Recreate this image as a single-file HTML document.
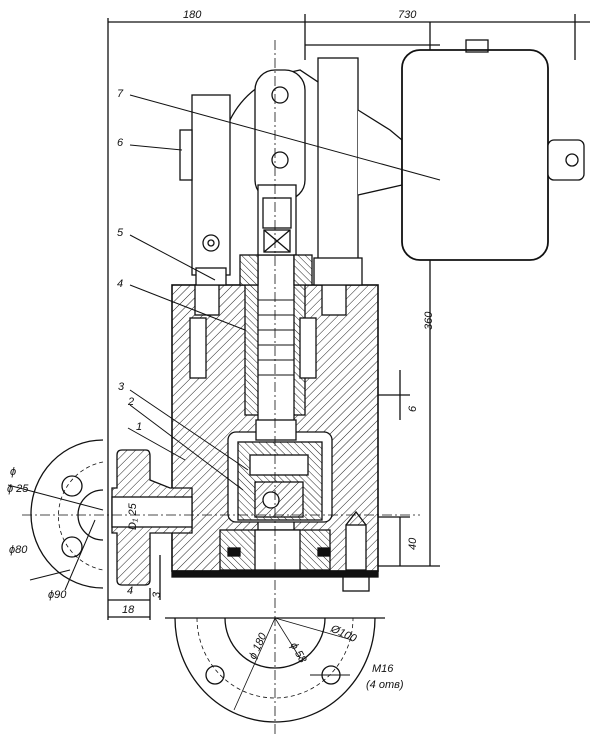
<!DOCTYPE html>
<html><head><meta charset="utf-8"><style>
html,body{margin:0;padding:0;background:#fff}
svg{display:block}
text{font-family:"Liberation Sans",sans-serif;font-style:italic;font-size:11px;fill:#111}
</style></head><body>
<svg width="605" height="736" viewBox="0 0 605 736" xmlns="http://www.w3.org/2000/svg">
<defs>
<pattern id="h" width="6" height="6" patternUnits="userSpaceOnUse" patternTransform="rotate(45)">
<rect width="6" height="6" fill="#fff"/><line x1="0" y1="0" x2="0" y2="6" stroke="#222" stroke-width="1"/></pattern>
<pattern id="h2" width="5" height="5" patternUnits="userSpaceOnUse" patternTransform="rotate(-45)">
<rect width="5" height="5" fill="#fff"/><line x1="0" y1="0" x2="0" y2="5" stroke="#222" stroke-width="1"/></pattern>
</defs>
<g stroke="#111" stroke-width="1.3" fill="none">
<!-- dimension lines -->
<line x1="108" y1="18" x2="108" y2="620"/>
<line x1="108" y1="22" x2="590" y2="22"/>
<line x1="305" y1="14" x2="305" y2="60"/>
<line x1="575" y1="14" x2="575" y2="60"/>
<line x1="430" y1="22" x2="430" y2="566"/>
<line x1="378" y1="566" x2="440" y2="566"/>
<line x1="305" y1="45" x2="440" y2="45"/>
<line x1="378" y1="395" x2="410" y2="395"/>
<line x1="378" y1="517" x2="410" y2="517"/>
<line x1="400" y1="370" x2="400" y2="420"/>
<line x1="400" y1="517" x2="400" y2="566"/>
<!-- main block -->
<rect x="172" y="285" width="206" height="286" fill="url(#h)" stroke-width="1.6"/>
<rect x="172" y="571" width="206" height="6" fill="#111"/>
<!-- central bore -->
<rect x="245" y="285" width="60" height="130" fill="url(#h2)"/>
<rect x="258" y="255" width="36" height="300" fill="#fff"/>
<g stroke-width="1">
<line x1="258" y1="300" x2="294" y2="300"/><line x1="258" y1="315" x2="294" y2="315"/>
<line x1="258" y1="330" x2="294" y2="330"/><line x1="258" y1="345" x2="294" y2="345"/>
<line x1="258" y1="360" x2="294" y2="360"/><line x1="258" y1="375" x2="294" y2="375"/>
</g>
<rect x="190" y="318" width="16" height="60" fill="#fff"/>
<rect x="300" y="318" width="16" height="60" fill="#fff"/>
<rect x="228" y="432" width="104" height="90" rx="8" fill="#fff"/>
<rect x="238" y="442" width="84" height="78" fill="url(#h2)"/>
<rect x="250" y="455" width="58" height="20" fill="#fff"/>
<rect x="255" y="482" width="48" height="35" fill="url(#h)"/>
<circle cx="271" cy="500" r="8" fill="#fff"/>
<rect x="220" y="530" width="110" height="40" fill="url(#h2)"/>
<rect x="255" y="530" width="45" height="40" fill="#fff"/>
<rect x="228" y="548" width="12" height="8" fill="#111"/>
<rect x="318" y="548" width="12" height="8" fill="#111"/>
<rect x="256" y="420" width="40" height="20" fill="#fff"/>
<rect x="195" y="285" width="24" height="30" fill="#fff"/>
<rect x="322" y="285" width="24" height="30" fill="#fff"/>
<!-- stud -->
<rect x="346" y="525" width="20" height="45" fill="#fff"/>
<path d="M346 525 L356 512 L366 525"/>
<rect x="343" y="577" width="26" height="14" fill="#fff"/>
<!-- levers -->
<rect x="192" y="95" width="38" height="180" fill="#fff"/>
<rect x="180" y="130" width="12" height="50" fill="#fff"/>
<circle cx="211" cy="243" r="8"/><circle cx="211" cy="243" r="3"/>
<path d="M230 120 Q250 80 300 70 L330 90 L320 110"/>
<rect x="255" y="70" width="50" height="130" rx="20" fill="#fff"/>
<circle cx="280" cy="95" r="8"/><circle cx="280" cy="160" r="8"/>
<rect x="318" y="58" width="40" height="210" fill="#fff"/>
<rect x="314" y="258" width="48" height="27" fill="#fff"/>
<path d="M358 110 L390 130 L402 140 L402 185 L358 195" fill="#fff"/>
<rect x="258" y="185" width="38" height="70" fill="#fff"/>
<rect x="263" y="198" width="28" height="30"/>
<rect x="264" y="230" width="26" height="22"/>
<line x1="264" y1="230" x2="290" y2="252"/><line x1="290" y1="230" x2="264" y2="252"/>
<rect x="240" y="255" width="18" height="30" fill="url(#h2)"/>
<rect x="294" y="255" width="18" height="30" fill="url(#h2)"/>
<rect x="196" y="268" width="30" height="17" fill="#fff"/>
<!-- motor -->
<rect x="402" y="50" width="146" height="210" rx="18" fill="#fff" stroke-width="1.8"/>
<rect x="548" y="140" width="36" height="40" rx="6" fill="#fff"/>
<circle cx="572" cy="160" r="6"/>
<rect x="466" y="40" width="22" height="12"/>
<!-- left fitting -->
<path d="M117 455 Q117 450 122 450 L146 450 Q150 450 150 456 L150 480 L170 488 L192 488 L192 533 L150 533 L150 580 Q150 585 145 585 L122 585 Q117 585 117 580 L117 533 L112 533 L112 488 L117 488 Z" fill="url(#h)"/>
<rect x="112" y="497" width="80" height="30" fill="#fff"/>
<path d="M103 440 A72 74 0 0 0 103 588"/>
<path d="M103 490 A25 25 0 0 0 103 540"/>
<circle cx="72" cy="486" r="10"/><circle cx="72" cy="547" r="10"/>
<path d="M103 462 A55 55 0 0 0 103 570" stroke-dasharray="4 3" stroke-width="0.8"/>
<line x1="22" y1="515" x2="420" y2="515" stroke-dasharray="10 3 2 3" stroke-width="0.8"/>
<!-- bottom flange -->
<line x1="165" y1="618" x2="385" y2="618"/>
<path d="M175 618 A100 104 0 0 0 375 618"/>
<path d="M225 618 A50 50 0 0 0 325 618"/>
<path d="M197 618 A78 80 0 0 0 353 618" stroke-dasharray="4 3" stroke-width="0.8"/>
<circle cx="215" cy="675" r="9"/><circle cx="331" cy="675" r="9"/>
<line x1="275" y1="40" x2="275" y2="736" stroke-dasharray="10 3 2 3" stroke-width="0.8"/>
<line x1="275" y1="618" x2="300" y2="658" stroke-width="0.8"/>
<line x1="275" y1="618" x2="352" y2="640" stroke-width="0.8"/>
<line x1="275" y1="618" x2="234" y2="710" stroke-width="0.8"/>
<!-- lower dims -->
<line x1="108" y1="600" x2="150" y2="600"/>
<line x1="108" y1="617" x2="150" y2="617"/>
<line x1="150" y1="588" x2="150" y2="620"/>
<line x1="160" y1="555" x2="160" y2="600"/>
<!-- leaders -->
<g stroke-width="1">
<line x1="130" y1="95" x2="440" y2="180"/>
<line x1="130" y1="145" x2="182" y2="150"/>
<line x1="130" y1="235" x2="215" y2="280"/>
<line x1="130" y1="285" x2="245" y2="330"/>
<line x1="130" y1="390" x2="248" y2="470"/>
<line x1="130" y1="405" x2="243" y2="490"/>
<line x1="128" y1="428" x2="185" y2="460"/>
<line x1="8" y1="485" x2="103" y2="510"/>
<line x1="30" y1="580" x2="70" y2="570"/>
<line x1="65" y1="590" x2="95" y2="520"/>
<line x1="310" y1="675" x2="350" y2="675"/>
</g>
</g>
<text x="183" y="18">180</text>
<text x="398" y="18">730</text>
<text x="117" y="97">7</text>
<text x="117" y="146">6</text>
<text x="117" y="236">5</text>
<text x="117" y="287">4</text>
<text x="118" y="390">3</text>
<text x="128" y="405">2</text>
<text x="136" y="430">1</text>
<text x="10" y="475">ϕ</text>
<text x="7" y="492">ϕ 25</text>
<text x="9" y="553">ϕ80</text>
<text x="48" y="598">ϕ90</text>
<text x="127" y="594">4</text>
<text x="122" y="613">18</text>
<text x="160" y="598" transform="rotate(-90 160 598)">3</text>
<text x="432" y="330" transform="rotate(-90 432 330)">360</text>
<text x="416" y="412" transform="rotate(-90 416 412)">6</text>
<text x="416" y="550" transform="rotate(-90 416 550)">40</text>
<text x="136" y="530" transform="rotate(-90 136 530)">D₁ 25</text>
<text x="330" y="631" transform="rotate(25 330 631)">Ø100</text>
<text x="290" y="645" transform="rotate(60 290 645)">ϕ 58</text>
<text x="255" y="660" transform="rotate(-65 255 660)">ϕ 180</text>
<text x="372" y="672">M16</text>
<text x="366" y="688">(4 отв)</text>
</svg>
</body></html>
